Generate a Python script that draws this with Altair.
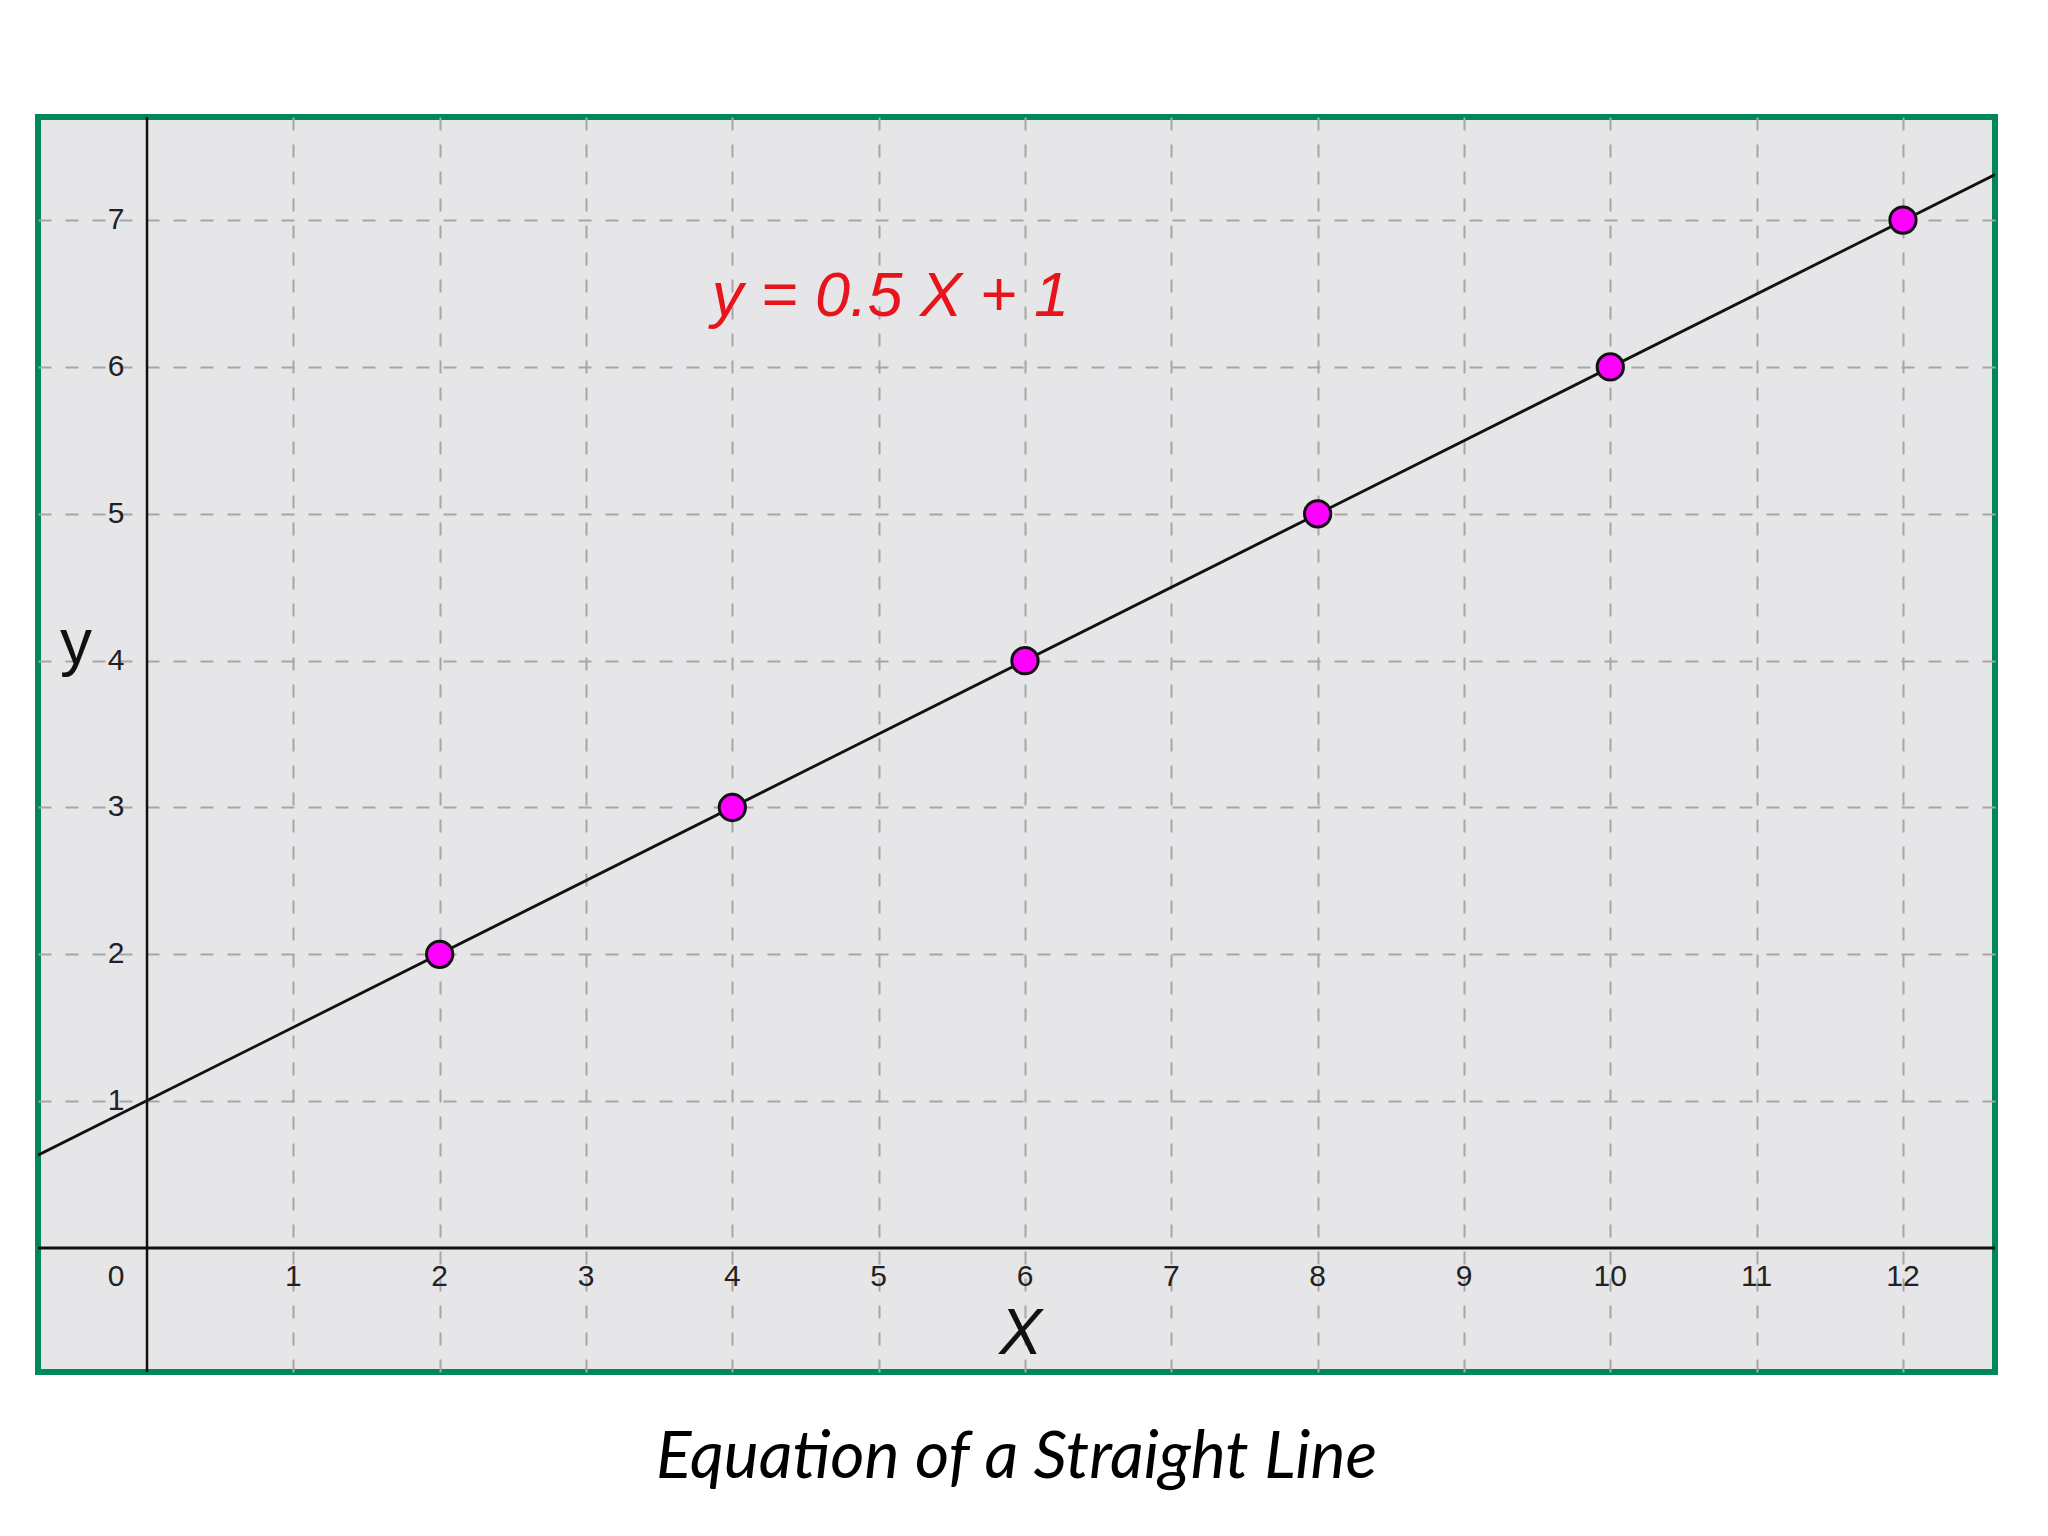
import altair as alt
import pandas as pd

# Points that lie on y = 0.5 X + 1
POINT_X = [2, 4, 6, 8, 10, 12]
POINT_Y = [2, 3, 4, 5, 6, 7]

# The drawn line runs from edge to edge of the panel
LINE_X = [-0.75, 12.63]
LINE_Y = [0.63, 7.31]

X_TICKS = [1, 2, 3, 4, 5, 6, 7, 8, 9, 10, 11, 12]
Y_TICKS = [1, 2, 3, 4, 5, 6, 7]

X_DOMAIN = [-0.745, 12.629]
Y_DOMAIN = [-0.844, 7.702]

EQUATION = "y = 0.5 X + 1"
CAPTION = "Equation of a Straight Line"

GRID_COLOR = "#a6a6a6"
PANEL_FILL = "#e6e6e8"
BORDER_GREEN = "#00875a"
LABEL_FONT = "Liberation Sans"

x_scale = alt.Scale(domain=X_DOMAIN, nice=False, zero=False)
y_scale = alt.Scale(domain=Y_DOMAIN, nice=False, zero=False)

x_axis = alt.Axis(
    values=X_TICKS, grid=True, labels=False, ticks=False, domain=False, title=None,
    gridColor=GRID_COLOR, gridDash=[13, 14], gridWidth=2,
)
y_axis = alt.Axis(
    values=Y_TICKS, grid=True, labels=False, ticks=False, domain=False, title=None,
    gridColor=GRID_COLOR, gridDash=[13, 14], gridWidth=2,
)


def X(field):
    return alt.X(field, type="quantitative", scale=x_scale, axis=x_axis)


def Y(field):
    return alt.Y(field, type="quantitative", scale=y_scale, axis=y_axis)


points = pd.DataFrame({"x": POINT_X, "y": POINT_Y})
line = pd.DataFrame({"x": LINE_X, "y": LINE_Y})
x_labels = pd.DataFrame({"x": X_TICKS, "y": [0] * len(X_TICKS), "t": [str(v) for v in X_TICKS]})
y_labels = pd.DataFrame({"x": [0] * len(Y_TICKS), "y": Y_TICKS, "t": [str(v) for v in Y_TICKS]})
origin = pd.DataFrame({"x": [0], "y": [0], "t": ["0"]})
zero = pd.DataFrame({"x": [0], "y": [0]})

# annotation anchors, in data units
equation = pd.DataFrame({"x": [5.08], "y": [6.35], "t": [EQUATION]})
x_title = pd.DataFrame({"x": [5.97], "y": [-0.72], "t": ["X"]})
y_title = pd.DataFrame({"x": [-0.485], "y": [3.98], "t": ["y"]})

x_axis_line = alt.Chart(zero).mark_rule(color="#111111", strokeWidth=3).encode(y=Y("y"))
y_axis_line = alt.Chart(zero).mark_rule(color="#111111", strokeWidth=2.5).encode(x=X("x"))

straight = (
    alt.Chart(line)
    .mark_line(color="#111111", strokeWidth=2.8, clip=True)
    .encode(x=X("x"), y=Y("y"))
)

dots = (
    alt.Chart(points)
    .mark_point(shape="circle", filled=True, fill="#ff00ff", stroke="#111111",
                strokeWidth=3, size=690, opacity=1)
    .encode(x=X("x"), y=Y("y"))
)

tick_style = dict(font=LABEL_FONT, fontSize=30, color="#222222", baseline="middle", align="center")
x_ticks = alt.Chart(x_labels).mark_text(dy=29, **tick_style).encode(x=X("x"), y=Y("y"), text="t:N")
y_ticks = alt.Chart(y_labels).mark_text(dx=-31, **tick_style).encode(x=X("x"), y=Y("y"), text="t:N")
origin_tick = alt.Chart(origin).mark_text(dx=-31, dy=29, **tick_style).encode(x=X("x"), y=Y("y"), text="t:N")

eq_text = (
    alt.Chart(equation)
    .mark_text(font=LABEL_FONT, fontSize=63, fontStyle="italic", color="#e8141b",
               align="center", baseline="alphabetic")
    .encode(x=X("x"), y=Y("y"), text="t:N")
)
x_title_text = (
    alt.Chart(x_title)
    .mark_text(font=LABEL_FONT, fontSize=64, fontStyle="italic", color="#111111",
               align="center", baseline="alphabetic")
    .encode(x=X("x"), y=Y("y"), text="t:N")
)
y_title_text = (
    alt.Chart(y_title)
    .mark_text(font=LABEL_FONT, fontSize=64, color="#111111",
               align="center", baseline="alphabetic")
    .encode(x=X("x"), y=Y("y"), text="t:N")
)

chart = (
    alt.layer(
        x_axis_line, y_axis_line, straight, dots,
        x_ticks, y_ticks, origin_tick,
        eq_text, x_title_text, y_title_text,
    )
    .properties(
        width=1957,
        height=1255,
        autosize="none",
        padding={"left": 30, "top": 109, "right": 45, "bottom": 156},
        background="white",
        title=alt.TitleParams(
            CAPTION, orient="bottom", anchor="middle", frame="group",
            font="Lato", fontSize=66, fontStyle="italic", fontWeight="normal",
            color="#000000", baseline="alphabetic", offset=105,
        ),
    )
    .configure_view(fill=PANEL_FILL, stroke=BORDER_GREEN, strokeWidth=6)
)

chart.save("out.html", embed_options={"renderer": "svg", "actions": False})
